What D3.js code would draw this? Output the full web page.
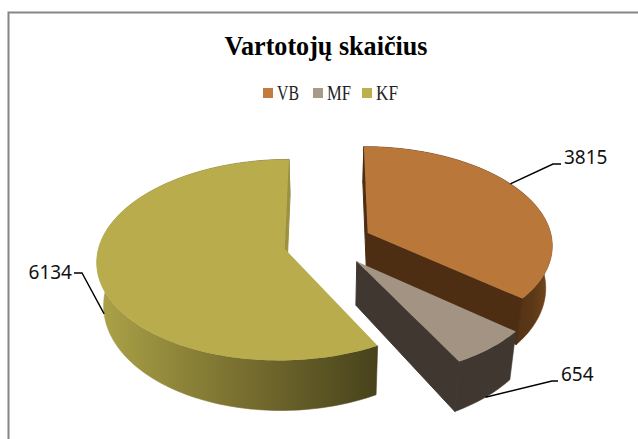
<!DOCTYPE html>
<html>
<head>
<meta charset="utf-8">
<script src="https://cdn.jsdelivr.net/npm/d3@7"></script>
<style>
html,body{margin:0;padding:0;background:#fff;overflow:hidden}
svg{display:block}
</style>
</head>
<body>
<svg id="c" width="638" height="439"></svg>
<script>
const titleText = "Vartotojų skaičius";
const categories = ["VB", "MF", "KF"];
const values = [3815, 654, 6134];
const topColors = ["#ba773a", "#a39382", "#b8ac4c"];
const legendColors = ["#c27c3e", "#a89a88", "#bcb04e"];
const sideColors = ["#4d2e13", "#403830", "#9b9140"];

const W = 638, H = 439;
const cx = 328, cy = 243, Rx = 185, Ry = 98, thick = 45;
const persp = 0.11, zShrink = 0.03, explode = 0.24;

const svg = d3.select("#c");
const defs = svg.append("defs");

const xUnit = d3.scaleLinear().domain([-1, 1]).range([cx - Rx, cx + Rx]);
const yUnit = d3.scaleLinear().domain([-1, 1]).range([cy - Ry, cy + Ry]);

function project(u, v, z) {
  const k = 1 / (1 - persp * v + zShrink * z);
  return [xUnit(u * k), yUnit(v * k) + thick * z * k * k];
}

const pie = d3.pie().sort(null).startAngle(0).endAngle(2 * Math.PI);
const arcs = pie(values);
const line = d3.line();

function unit(a, r, d) {
  const m = (d.startAngle + d.endAngle) / 2;
  return [explode * Math.sin(m) + r * Math.sin(a), -explode * Math.cos(m) - r * Math.cos(a)];
}
function rim(d, z, reverse) {
  const n = Math.max(8, Math.ceil((d.endAngle - d.startAngle) * 40));
  const pts = d3.range(n + 1).map(i => {
    const a = d.startAngle + (d.endAngle - d.startAngle) * i / n;
    const p = unit(a, 1, d);
    return project(p[0], p[1], z);
  });
  return reverse ? pts.reverse() : pts;
}
function pt(a, r, d, z) {
  const p = unit(a, r, d);
  return project(p[0], p[1], z);
}

function gradient(id, stops) {
  const g = defs.append("linearGradient").attr("id", id).attr("gradientUnits", "objectBoundingBox")
    .attr("x1", 0).attr("x2", 1).attr("y1", 0).attr("y2", 0);
  stops.forEach(s => g.append("stop").attr("offset", s[0]).attr("stop-color", s[1]));
}
gradient("wall0", [[0, "#4d2e13"], [0.72, "#4d2e13"], [0.9, "#5c3817"], [1, "#7a4b20"]]);
gradient("wall1", [[0, "#403830"], [1, "#403830"]]);
gradient("wall2", [[0, "#ada349"], [0.3, "#8d8439"], [0.62, "#6e652b"], [1, "#47421b"]]);

// frame
svg.append("path")
  .attr("d", line([[8.5, H], [8.5, 12.5], [W, 12.5]]))
  .attr("fill", "none").attr("stroke", "#868686").attr("stroke-width", 2);

// title
svg.append("text").text(titleText)
  .attr("x", 326).attr("y", 55).attr("text-anchor", "middle")
  .attr("font-family", "Liberation Serif").attr("font-weight", "bold").attr("font-size", 27)
  .attr("textLength", 203).attr("lengthAdjust", "spacingAndGlyphs").attr("fill", "#000");

// legend
const legendX = [263, 313, 362], legendW = [22, 24, 22];
categories.forEach((c, i) => {
  svg.append("rect").attr("x", legendX[i]).attr("y", 88).attr("width", 10).attr("height", 10).attr("fill", legendColors[i]);
  svg.append("text").text(c).attr("x", legendX[i] + 14).attr("y", 100)
    .attr("font-family", "Liberation Serif").attr("font-size", 20)
    .attr("textLength", legendW[i]).attr("lengthAdjust", "spacingAndGlyphs").attr("fill", "#222");
});

// slices back to front
[2, 0, 1].forEach(i => {
  const d = arcs[i], g = svg.append("g");
  g.append("path")
    .attr("d", line(rim(d, 0).concat(rim(d, 1, true))) + "Z")
    .attr("fill", "url(#wall" + i + ")").attr("stroke", "url(#wall" + i + ")").attr("stroke-width", 0.6);
  [[d.startAngle, 1], [d.endAngle, -1]].forEach(([a, facing]) => {
    const quad = [pt(a, 0, d, 0), pt(a, 1, d, 0), pt(a, 1, d, 1), pt(a, 0, d, 1)];
    if (d3.polygonArea(quad) * facing > 0) {
      g.append("path").attr("d", line(quad) + "Z")
        .attr("fill", sideColors[i]).attr("stroke", sideColors[i]).attr("stroke-width", 1);
    }
  });
  g.append("path")
    .attr("d", line([pt(d.startAngle, 0, d, 0)].concat(rim(d, 0))) + "Z")
    .attr("fill", topColors[i]);
});

// leaders and value labels
const anchorFrac = [0.44, 0.5, 0.5];
const anchorDepth = [0, 1, 0.9];
const elbow = [[553, 164], [552, 381], [82, 273]];
const stub = [[561, 164], [558, 381], [74, 273]];
const labelPos = [[564, 164], [561, 381], [72, 279]];
const labelAnchor = ["start", "start", "end"];
arcs.forEach((d, i) => {
  const a = d.startAngle + (d.endAngle - d.startAngle) * anchorFrac[i];
  svg.append("path")
    .attr("d", line([pt(a, 1, d, anchorDepth[i]), elbow[i], stub[i]]))
    .attr("fill", "none").attr("stroke", "#000").attr("stroke-width", 1.4);
  svg.append("text").text(values[i])
    .attr("x", labelPos[i][0]).attr("y", labelPos[i][1]).attr("text-anchor", labelAnchor[i])
    .attr("font-family", "Noto Sans").attr("font-size", 19).attr("fill", "#111");
});
</script>
</body>
</html>
